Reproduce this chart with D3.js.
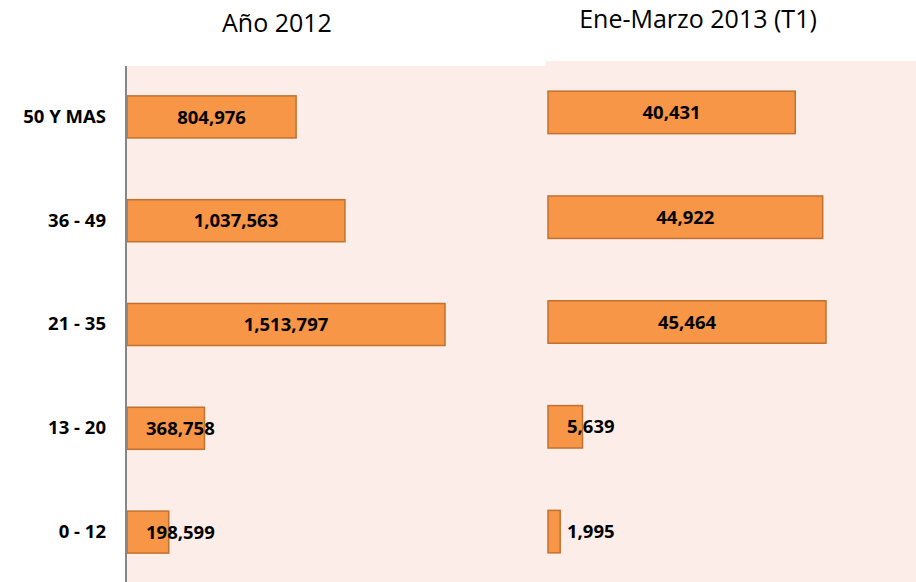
<!DOCTYPE html>
<html>
<head>
<meta charset="utf-8">
<script src="https://cdn.jsdelivr.net/npm/d3@7"></script>
<style>
  html, body { margin: 0; padding: 0; background: #fff; }
  svg { display: block; }
</style>
</head>
<body>
<div id="chart"></div>
<script>
// Age groups and counts for the two periods
const categories = ["50 Y MAS", "36 - 49", "21 - 35", "13 - 20", "0 - 12"];
const values2012 = [804976, 1037563, 1513797, 368758, 198599];
const values2013 = [40431, 44922, 45464, 5639, 1995];
const panelTitles = ["Año 2012", "Ene-Marzo 2013 (T1)"];

const width = 916, height = 582;
const fmt = d3.format(",");

const svg = d3.select("#chart").append("svg")
    .attr("width", width)
    .attr("height", height);

// Panel settings (plot area of each small chart)
const panels = [
    { values: values2012, title: panelTitles[0], bgX: 127, bgW: 419, top: 66, x0: 127, x1: 445, titleX: 277, titleY: 32 },
    { values: values2013, title: panelTitles[1], bgX: 546, bgW: 370, top: 61, x0: 548, x1: 826, titleX: 698, titleY: 28 }
];

panels.forEach(p => {
    // Background
    svg.append("rect")
        .attr("x", p.bgX).attr("y", p.top)
        .attr("width", p.bgW).attr("height", height - p.top)
        .attr("fill", "#fcede8");
});

panels.forEach((p, pi) => {
    const x = d3.scaleLinear()
        .domain([0, d3.max(p.values)])
        .range([p.x0, p.x1]);

    const y = d3.scaleBand()
        .domain(categories)
        .range([p.top - 1, 584])
        .paddingInner(0.595)
        .paddingOuter(0.2975);

    const rows = categories.map((c, i) => ({ cat: c, value: p.values[i] }));

    const g = svg.append("g");

    // Bars
    g.selectAll("rect.bar")
        .data(rows)
        .enter().append("rect")
        .attr("class", "bar")
        .attr("x", x(0))
        .attr("y", d => y(d.cat))
        .attr("width", d => x(d.value) - x(0))
        .attr("height", y.bandwidth())
        .attr("fill", "#f79646")
        .attr("stroke", "#c0712f")
        .attr("stroke-width", 1.5);

    // Value labels, pushed right when the bar is too short
    g.selectAll("text.val")
        .data(rows)
        .enter().append("text")
        .attr("class", "val")
        .attr("y", d => y(d.cat) + y.bandwidth() / 2)
        .attr("dy", "0.36em")
        .attr("text-anchor", "middle")
        .style("font-family", "'Open Sans', sans-serif")
        .style("font-weight", 700)
        .style("font-size", "18.5px")
        .style("fill", "#000")
        .text(d => fmt(d.value))
        .attr("x", function (d) {
            const w = this.getComputedTextLength();
            const mid = (x(0) + x(d.value)) / 2;
            return Math.max(mid, x(0) + 19 + w / 2);
        });

    // Title
    svg.append("text")
        .attr("x", p.titleX)
        .attr("y", p.titleY)
        .attr("text-anchor", "middle")
        .style("font-family", "'Open Sans', sans-serif")
        .style("font-size", "25px")
        .style("fill", "#000")
        .text(p.title);

    // Category axis only on the first panel
    if (pi === 0) {
        const axis = d3.axisLeft(y).tickSize(0).tickPadding(20);
        const ax = svg.append("g")
            .attr("transform", `translate(${p.x0 - 1},0)`)
            .call(axis);
        ax.select(".domain")
            .attr("d", `M0,${p.top}V${height}`)
            .attr("stroke", "#868686")
            .attr("stroke-width", 2);
        ax.selectAll(".tick text")
            .style("font-family", "'Open Sans', sans-serif")
            .style("font-weight", 700)
            .style("font-size", "18.5px")
            .style("fill", "#000");
    }
});
</script>
</body>
</html>
